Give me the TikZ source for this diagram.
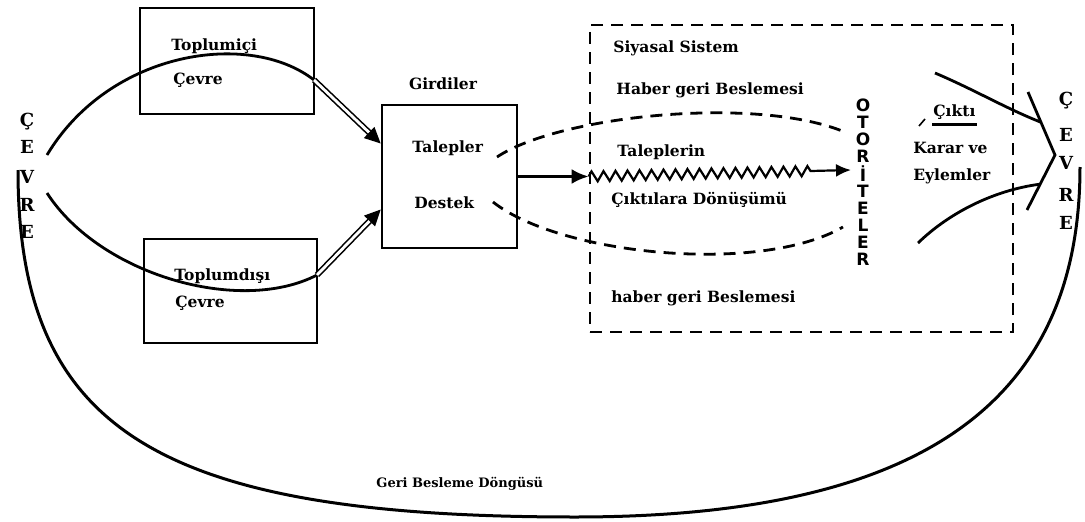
\documentclass[tikz,border=0pt]{standalone}
\usepackage{fontspec}
\setmainfont{DejaVu Serif}
\newfontfamily\harfsans{DejaVu Sans}
\usetikzlibrary{arrows.meta,decorations.pathmorphing,calc}

\tikzset{
  kutu/.style={draw, line width=2.6pt, inner sep=0pt},
  yazi/.style={font=\bfseries\fontsize{15.5}{18}\selectfont, inner sep=0pt, anchor=west},
  harf/.style={font=\bfseries\fontsize{18}{20}\selectfont, inner sep=0pt},
  otoharf/.style={font=\harfsans\bfseries\fontsize{17}{19}\selectfont, inner sep=0pt},
  kesik/.style={line width=2.8pt, dash pattern=on 12pt off 8pt},
  cift/.style={double, double distance=2.8pt, line width=1.6pt, -{Triangle[length=16pt,width=15pt]}},
}

\begin{document}
\begin{tikzpicture}[x=1pt,y=-1pt,line width=2.8pt]
  \useasboundingbox (0,0) rectangle (1085,522);

  % draw boxes
  \node[kutu, minimum width=174pt, minimum height=106pt] (icevre) at (227,61) {};
  \node[kutu, minimum width=173pt, minimum height=104pt] (disevre) at (230.5,291) {};
  \node[kutu, minimum width=135pt, minimum height=143pt] (girdi) at (449.5,176.5) {};
  \node[kutu, kesik, minimum width=423pt, minimum height=307pt] (siyasal) at (801.5,178.5) {};

  % draw texts
  \node[yazi] (icyazi) at (170,46) {Toplumiçi};
  \node[yazi] (iccevre) at (172,80) {Çevre};
  \node[yazi] (disyazi) at (173,276) {Toplumdışı};
  \node[yazi] (discevre) at (174,303) {Çevre};
  \node[yazi, anchor=center] (girdiler) at (443,84) {Girdiler};
  \node[yazi] (talepler) at (411,148) {Talepler};
  \node[yazi] (destek) at (413,203) {Destek};
  \node[yazi] (sistem) at (612,48) {Siyasal Sistem};
  \node[yazi] (haberust) at (615,90) {Haber geri Beslemesi};
  \node[yazi] (taleplerin) at (616,152) {Taleplerin};
  \node[yazi] (donusum) at (610,200) {Çıktılara Dönüşümü};
  \node[yazi] (haberalt) at (610,298) {haber geri Beslemesi};
  \node[yazi] (cikti) at (932,112) {Çıktı};
  \node[yazi] (karar) at (912,148) {Karar ve};
  \node[yazi] (eylem) at (912,176) {Eylemler};
  \node[yazi, font=\bfseries\fontsize{13}{15}\selectfont] (dongu) at (375,484) {Geri Besleme Döngüsü};

  % draw vertical letters
  \foreach \h/\y [count=\i] in {Ç/122,E/147,V/177,R/205,E/232}
    \node[harf] (sol\i) at (27,\y) {\h};
  \foreach \h/\y [count=\i] in {Ç/101,E/135,V/163,R/195,E/223}
    \node[harf] (sag\i) at (1066,\y) {\h};
  \foreach \h [count=\i from 0] in {O,T,O,R,İ,T,E,L,E,R}
    \node[otoharf] (oto\i) at (863,105+17.2*\i) {\h};

  % draw coordinates
  \coordinate (solUst) at (47,155);
  \coordinate (solAlt) at (47,193);
  \coordinate (icCikis) at (314,80);
  \coordinate (disCikis) at (317,275);
  \coordinate (zigBas) at (girdi.east -| siyasal.west);
  \coordinate (otoGiris) at (851,170);
  \coordinate (talepSag) at (497,157);
  \coordinate (destekSag) at (493,202);
  \coordinate (ustSon) at (847,133);
  \coordinate (altSon) at (843,227);
  \coordinate (okUst) at (1028,92);
  \coordinate (okUc) at (1055,155);
  \coordinate (okAlt) at (1027,210);
  \coordinate (donguBas) at (18,170);
  \coordinate (donguDip) at (575,517);
  \coordinate (donguSon) at (1080,167);

  % draw environment curves
  \draw (solUst) .. controls (110,50) and (250,30) .. (icCikis);
  \draw (solAlt) .. controls (100,275) and (240,315) .. (disCikis);
  \draw[cift] (icCikis) -- ([yshift=33pt]girdi.west);
  \draw[cift] (disCikis) -- ([yshift=-33pt]girdi.west);

  % draw inputs and conversion
  \draw[-{Latex[length=17pt,width=15pt]}] (girdi.east) -- (zigBas);
  \draw[line width=2.2pt, decorate, decoration={zigzag, segment length=12pt, amplitude=5pt, post length=38pt},
    -{Latex[length=15pt,width=13pt]}] (zigBas) -- (otoGiris);
  \draw[kesik] (talepSag) .. controls (560,115) and (760,95) .. (ustSon);
  \draw[kesik] (destekSag) .. controls (560,255) and (760,275) .. (altSon);

  % draw outputs
  \draw (cikti.south west) ++(0,4) -- ([yshift=-4pt]cikti.south east);
  \draw[line width=1.6pt] (919,126) -- (925,119);
  \draw (okUst) -- (okUc) -- (okAlt);
  \draw (935,73) .. controls (975,90) and (1005,108) .. ($(okUst)!0.48!(okUc)$);
  \draw (918,243) .. controls (950,212) and (995,190) .. ($(okUc)!0.53!(okAlt)$);

  % draw feedback loop
  \draw[line width=3pt] (donguBas) .. controls (18,430) and (157,517) .. (donguDip)
    .. controls (918,517) and (1080,405) .. (donguSon);
\end{tikzpicture}
\end{document}
